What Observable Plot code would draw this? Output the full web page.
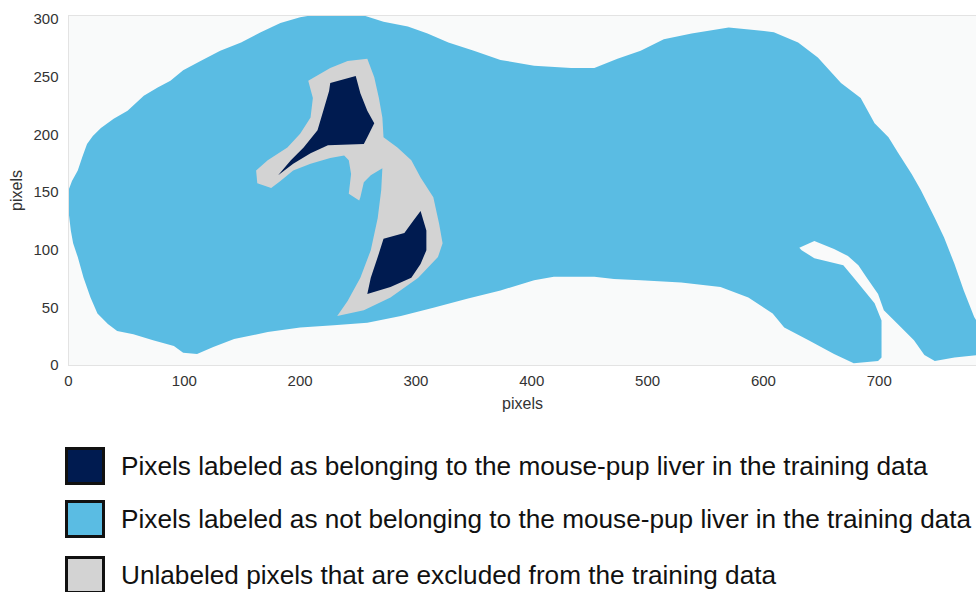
<!DOCTYPE html>
<html>
<head>
<meta charset="utf-8">
<script src="https://cdn.jsdelivr.net/npm/d3@7"></script>
<script src="https://cdn.jsdelivr.net/npm/@observablehq/plot@0.6"></script>
<style>
  body { margin: 0; background: #ffffff; font-family: "Liberation Sans", Arial, sans-serif; }
  #wrap { position: relative; width: 976px; height: 592px; overflow: hidden; }
  #chart { position: absolute; left: 0; top: 0; }
  .row { position: absolute; left: 65px; display: flex; align-items: center; height: 40px; }
  .sw { width: 34px; height: 32px; border: 3px solid #111; }
  .lab { margin-left: 16px; font-size: 26.2px; color: #111; white-space: nowrap; }
</style>
</head>
<body>
<div id="wrap">
  <div id="chart"></div>
  <div id="legend"></div>
</div>
<script>
// ---- data (image pixel coordinates) ----
const xTicks = [0, 100, 200, 300, 400, 500, 600, 700];
const yTicks = [0, 50, 100, 150, 200, 250, 300];
const xDomain = [0, 784];
const yDomain = [0, 303.5];

// outline of pixels labeled as NOT belonging to the liver (light blue)
const notLiverOutline = [
  [0,152],[3,160],[8,169],[12,181],[16,192],[21,199],[28,206],[39,214],[51,221],[65,234],[77,241],[88,247],[99,256],
  [114,264],[131,273],[149,280],[166,289],[183,297],[200,302],[209,303.5],[255,303.5],
  [272,298],[293,294],[310,288],[328,280],[350,273],[373,265],[402,260],[434,258],[454,258],
  [474,266],[494,273],[514,283],[538,288],[570,293],[592,291],[609,289],[630,280],[647,267],
  [667,245],[684,232],[696,210],[708,198],[716,185],[728,166],[736,152],[748,128],[756,111],
  [765,88],[773,65],[782,42],[785,37],[785,9],[765,7],[748,4],[739,9],[730,22],[719,33],
  [704,48],[699,62],[690,75],[682,87],[673,95],[661,101],[644,108],[631,102],[633,100],
  [644,93],[669,87],[678,76],[687,65],[696,54],[702,39],[702,7],[699,4],[678,2],[661,10],
  [639,22],[618,33],[608,45],[587,59],[563,68],[529,72],[494,74],[471,75],[454,77],[419,77],
  [402,74],[373,65],[345,58],[315,50],[287,43],[258,37],[229,35],[200,33],[172,29],[143,23],
  [125,16],[111,10],[99,11],[91,17],[73,22],[56,27],[42,30],[34,36],[25,45],[19,59],[13,76],
  [8,94],[4,106],[2,117],[0,134]
];

// outline of unlabeled (excluded) pixels (light gray)
const unlabeledOutline = [
  [207,247],[226,258],[241,264],[258,266],[264,250],[268,232],[271,215],[272,198],[284,189],
  [296,178],[304,163],[315,146],[320,123],[323,106],[319,94],[302,76],[278,59],[255,48],
  [232,43],[241,56],[252,76],[261,100],[267,128],[270,152],[271,171],[261,165],[255,159],
  [252,146],[251,143],[242,149],[244,166],[242,178],[238,182],[226,180],[209,175],[194,169],
  [183,160],[175,154],[163,158],[162,169],[172,178],[189,189],[200,201],[209,215],[211,232]
];

// outlines of pixels labeled as belonging to the liver (navy)
const liverUpper = [
  [226,245],[248,251],[252,236],[258,221],[264,210],[258,198],[255,192],[224,191],[209,184],
  [194,175],[181,165],[192,178],[203,189],[215,204],[220,221],[225,238]
];
const liverLower = [
  [304,134],[309,117],[309,100],[304,88],[296,76],[278,68],[258,62],[261,76],[267,94],
  [272,110],[290,115],[298,126]
];

const legendLabels = [
  "Pixels labeled as belonging to the mouse-pup liver in the training data",
  "Pixels labeled as not belonging to the mouse-pup liver in the training data",
  "Unlabeled pixels that are excluded from the training data"
];
const legendColors = ["#001b50", "#5abce3", "#d3d3d3"];

// ---- chart ----
const poly = (data, fill) => Plot.line(data, {
  x: d => d[0], y: d => d[1], fill, stroke: "none", curve: "linear-closed"
});

const chart = Plot.plot({
  width: 976,
  height: 416,
  marginLeft: 68,
  marginRight: 0,
  marginTop: 15,
  marginBottom: 51,
  style: { fontFamily: "'Liberation Sans', Arial, sans-serif", fontSize: "15px", color: "#333", background: "#ffffff" },
  x: { domain: xDomain },
  y: { domain: yDomain },
  marks: [
    Plot.frame({ fill: "#f9fafa", stroke: "none" }),
    poly(notLiverOutline, legendColors[1]),
    poly(unlabeledOutline, legendColors[2]),
    poly(liverUpper, legendColors[0]),
    poly(liverLower, legendColors[0]),
    Plot.frame({ stroke: "#e3e3e3" }),
    Plot.axisX({ ticks: xTicks, tickSize: 0, tickPadding: 10, label: "pixels", labelAnchor: "center", labelArrow: "none", labelOffset: 43 }),
    Plot.axisY({ ticks: yTicks, tickSize: 0, tickPadding: 10, label: "pixels", labelAnchor: "center", labelArrow: "none", labelOffset: 58 })
  ]
});
document.getElementById("chart").append(chart);

// enforce axis text sizes
chart.querySelectorAll("text").forEach(t => {
  const g = t.closest("g[aria-label]");
  const al = g ? g.getAttribute("aria-label") : "";
  const isLabel = /axis label/.test(al) || t.textContent.trim() === "pixels";
  t.style.setProperty("font-size", isLabel ? "16px" : "15px", "important");
  t.style.setProperty("font-family", "'Liberation Sans', Arial, sans-serif", "important");
  t.style.setProperty("fill", "#333", "important");
});

// ---- legend ----
const rowTops = [446, 499, 555];
const legend = document.getElementById("legend");
legendLabels.forEach((t, i) => {
  const row = document.createElement("div");
  row.className = "row";
  row.style.top = rowTops[i] + "px";
  const sw = document.createElement("div");
  sw.className = "sw";
  sw.style.background = legendColors[i];
  const lab = document.createElement("span");
  lab.className = "lab";
  lab.textContent = t;
  row.append(sw, lab);
  legend.append(row);
});
</script>
</body>
</html>
